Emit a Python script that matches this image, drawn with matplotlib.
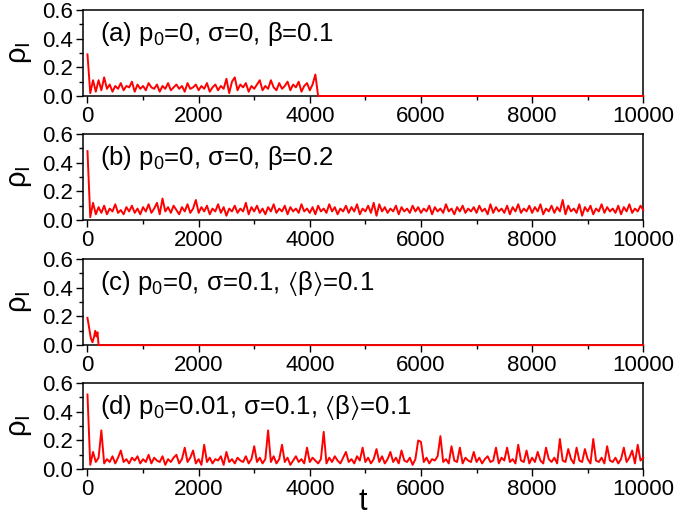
import numpy as np
import matplotlib
matplotlib.use("Agg")
import matplotlib.pyplot as plt
from matplotlib.ticker import MultipleLocator

plt.rcParams["font.family"] = ["Liberation Sans", "DejaVu Sans"]
plt.rcParams["mathtext.fontset"] = "custom"
plt.rcParams["mathtext.rm"] = "Liberation Sans"
plt.rcParams["mathtext.default"] = "regular"
plt.rcParams["mathtext.fallback"] = "stixsans"

STEP = 50  # sampling step of the read-off series

# (a) p0=0, sigma=0, beta=0.1 : dies out near t=4150
rho_a = [
    0.29, 0.02, 0.11, 0.03, 0.11, 0.04, 0.13, 0.05, 0.08, 0.03, 0.07, 0.05, 0.09, 0.04, 0.07, 0.06, 0.10, 0.03, 0.08, 0.05,
    0.07, 0.04, 0.09, 0.06, 0.05, 0.08, 0.03, 0.07, 0.05, 0.09, 0.04, 0.06, 0.08, 0.05, 0.07, 0.03, 0.09, 0.05, 0.06, 0.08,
    0.04, 0.07, 0.05, 0.09, 0.03, 0.06, 0.08, 0.04, 0.07, 0.05, 0.12, 0.02, 0.10, 0.13, 0.04, 0.08, 0.06, 0.09, 0.03, 0.07,
    0.05, 0.08, 0.11, 0.04, 0.07, 0.05, 0.11, 0.06, 0.04, 0.09, 0.05, 0.07, 0.10, 0.04, 0.08, 0.06, 0.10, 0.03, 0.07, 0.09,
    0.04, 0.08, 0.15, 0.00,
]
rho_a = rho_a + [0.0] * (201 - len(rho_a))

# (b) p0=0, sigma=0, beta=0.2
rho_b = [
    0.48, 0.02, 0.12, 0.04, 0.09, 0.05, 0.10, 0.04, 0.08, 0.06, 0.11, 0.05, 0.07, 0.04, 0.09, 0.06, 0.10, 0.05, 0.08, 0.04,
    0.09, 0.06, 0.11, 0.05, 0.08, 0.12, 0.04, 0.15, 0.06, 0.09, 0.05, 0.10, 0.07, 0.04, 0.09, 0.06, 0.11, 0.05, 0.08, 0.14,
    0.05, 0.09, 0.06, 0.10, 0.04, 0.08, 0.06, 0.11, 0.05, 0.09, 0.03, 0.08, 0.06, 0.10, 0.05, 0.08, 0.06, 0.12, 0.04, 0.09,
    0.06, 0.10, 0.05, 0.08, 0.04, 0.09, 0.06, 0.11, 0.05, 0.08, 0.06, 0.10, 0.04, 0.09, 0.06, 0.08, 0.05, 0.11, 0.06, 0.08,
    0.05, 0.09, 0.04, 0.10, 0.06, 0.08, 0.05, 0.11, 0.06, 0.09, 0.04, 0.08, 0.06, 0.10, 0.05, 0.09, 0.06, 0.11, 0.04, 0.08,
    0.06, 0.10, 0.05, 0.12, 0.03, 0.11, 0.06, 0.09, 0.05, 0.08, 0.06, 0.10, 0.04, 0.09, 0.06, 0.08, 0.05, 0.10, 0.06, 0.09,
    0.05, 0.08, 0.06, 0.10, 0.04, 0.09, 0.06, 0.08, 0.05, 0.11, 0.06, 0.08, 0.04, 0.09, 0.06, 0.10, 0.05, 0.08, 0.06, 0.09,
    0.05, 0.10, 0.06, 0.08, 0.04, 0.11, 0.05, 0.09, 0.06, 0.08, 0.05, 0.10, 0.04, 0.09, 0.06, 0.11, 0.05, 0.08, 0.06, 0.10,
    0.05, 0.09, 0.06, 0.11, 0.04, 0.08, 0.06, 0.10, 0.05, 0.09, 0.06, 0.14, 0.04, 0.10, 0.06, 0.08, 0.05, 0.11, 0.03, 0.09,
    0.06, 0.10, 0.04, 0.08, 0.06, 0.11, 0.05, 0.09, 0.06, 0.08, 0.05, 0.10, 0.04, 0.09, 0.06, 0.11, 0.05, 0.08, 0.06, 0.10,
    0.07,
]

# (c) p0=0, sigma=0.1, <beta>=0.1 : dies out almost at once
t_c = [0, 30, 60, 90, 120, 140, 160, 180, 200, 10000]
rho_c = [0.19, 0.12, 0.05, 0.02, 0.06, 0.10, 0.06, 0.09, 0.0, 0.0]

# (d) p0=0.01, sigma=0.1, <beta>=0.1
rho_d = [
    0.52, 0.03, 0.12, 0.05, 0.08, 0.27, 0.04, 0.07, 0.05, 0.09, 0.04, 0.08, 0.13, 0.05, 0.07, 0.04, 0.08, 0.06, 0.09, 0.04,
    0.07, 0.05, 0.10, 0.04, 0.08, 0.06, 0.05, 0.09, 0.03, 0.07, 0.05, 0.08, 0.10, 0.04, 0.07, 0.15, 0.05, 0.08, 0.13, 0.04,
    0.07, 0.03, 0.17, 0.05, 0.08, 0.04, 0.07, 0.06, 0.09, 0.03, 0.12, 0.05, 0.07, 0.04, 0.08, 0.06, 0.05, 0.09, 0.04, 0.07,
    0.16, 0.05, 0.08, 0.04, 0.07, 0.27, 0.05, 0.09, 0.04, 0.07, 0.17, 0.05, 0.08, 0.03, 0.06, 0.09, 0.05, 0.07, 0.04, 0.15,
    0.05, 0.08, 0.06, 0.04, 0.07, 0.26, 0.04, 0.08, 0.05, 0.09, 0.06, 0.04, 0.08, 0.12, 0.05, 0.07, 0.04, 0.09, 0.06, 0.15,
    0.05, 0.08, 0.04, 0.07, 0.14, 0.05, 0.09, 0.04, 0.07, 0.12, 0.05, 0.08, 0.04, 0.13, 0.06, 0.05, 0.08, 0.03, 0.07, 0.20,
    0.19, 0.05, 0.08, 0.04, 0.07, 0.06, 0.09, 0.23, 0.05, 0.07, 0.04, 0.16, 0.06, 0.05, 0.15, 0.04, 0.08, 0.06, 0.05, 0.12,
    0.05, 0.08, 0.04, 0.07, 0.09, 0.05, 0.06, 0.15, 0.04, 0.08, 0.06, 0.15, 0.05, 0.07, 0.04, 0.17, 0.06, 0.05, 0.13, 0.04,
    0.08, 0.05, 0.12, 0.06, 0.04, 0.15, 0.07, 0.05, 0.08, 0.04, 0.21, 0.06, 0.05, 0.14, 0.07, 0.04, 0.15, 0.06, 0.05, 0.14,
    0.07, 0.04, 0.21, 0.06, 0.05, 0.08, 0.04, 0.16, 0.06, 0.05, 0.08, 0.04, 0.07, 0.15, 0.05, 0.08, 0.13, 0.04, 0.17, 0.06,
    0.08,
]

t_grid = np.arange(len(rho_b)) * STEP

labels = [
    r"(a) p$_0$=0, σ=0, β=0.1",
    r"(b) p$_0$=0, σ=0, β=0.2",
    r"(c) p$_0$=0, σ=0.1, $\langle$β$\rangle$=0.1",
    r"(d) p$_0$=0.01, σ=0.1, $\langle$β$\rangle$=0.1",
]
series = [(t_grid, rho_a), (t_grid, rho_b), (t_c, rho_c), (t_grid, rho_d)]

fig = plt.figure(figsize=(6.75, 5.19), dpi=100)
left, width, height = 0.123, 0.830, 0.166
bottoms = [0.815, 0.576, 0.335, 0.096]

for i, ((t, rho), label) in enumerate(zip(series, labels)):
    ax = fig.add_axes([left, bottoms[i], width, height])
    ax.plot(t, rho, color="#ff0000", lw=1.4, clip_on=False, zorder=3)
    ax.set_xlim(-80, 10000)
    ax.set_ylim(0, 0.6)
    ax.xaxis.set_major_locator(MultipleLocator(2000))
    ax.xaxis.set_minor_locator(MultipleLocator(1000))
    ax.yaxis.set_major_locator(MultipleLocator(0.2))
    ax.yaxis.set_minor_locator(MultipleLocator(0.1))
    ax.yaxis.set_major_formatter(plt.FuncFormatter(lambda v, p: f"{v:.1f}"))
    ax.tick_params(which="major", direction="out", length=5, width=1, labelsize=16, pad=2)
    ax.tick_params(which="minor", direction="out", length=3, width=1)
    for s in ax.spines.values():
        s.set_linewidth(1.1)
    ax.set_ylabel("ρ$_I$", fontsize=21, labelpad=6)
    ax.text(0.03, 0.72, label, transform=ax.transAxes, fontsize=18.5, va="center", ha="left")
    if i == 3:
        ax.set_xlabel("t", fontsize=22, labelpad=-9)

fig.savefig("out.png", dpi=100)
